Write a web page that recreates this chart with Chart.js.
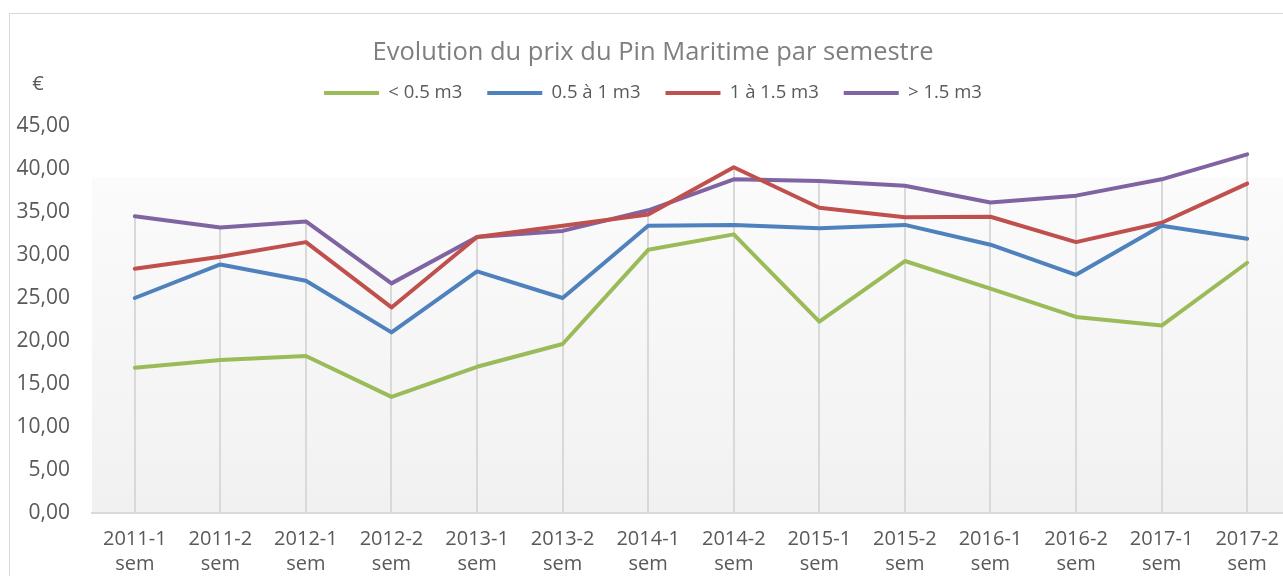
<!DOCTYPE html>
<html>
<head>
<meta charset="utf-8">
<script src="https://cdn.jsdelivr.net/npm/chart.js@4"></script>
<style>
  body { margin: 0; background: #fff; overflow: hidden; }
  #frame { position: absolute; left: 9px; top: 13px; width: 1400px; height: 700px; border: 1px solid #d9d9d9; overflow: hidden; }
</style>
</head>
<body>
<div id="frame"><canvas id="chartCanvas" width="1283" height="600"></canvas></div>
<script>
"use strict";

const periods = [
    ['2011-1', 'sem'], ['2011-2', 'sem'], ['2012-1', 'sem'], ['2012-2', 'sem'],
    ['2013-1', 'sem'], ['2013-2', 'sem'], ['2014-1', 'sem'], ['2014-2', 'sem'],
    ['2015-1', 'sem'], ['2015-2', 'sem'], ['2016-1', 'sem'], ['2016-2', 'sem'],
    ['2017-1', 'sem'], ['2017-2', 'sem']
];

const under05 = [16.9, 17.8, 18.25, 13.5, 17.0, 19.65, 30.6, 32.4, 22.25, 29.3, 26.1, 22.8, 21.8, 29.1];
const from05to1 = [25.0, 28.9, 27.0, 21.0, 28.1, 25.0, 33.4, 33.5, 33.1, 33.5, 31.2, 27.7, 33.4, 31.9];
const from1to15 = [28.4, 29.8, 31.5, 23.9, 32.1, 33.4, 34.7, 40.2, 35.5, 34.4, 34.45, 31.5, 33.75, 38.3];
const over15 = [34.5, 33.2, 33.9, 26.7, 32.1, 32.8, 35.2, 38.8, 38.6, 38.05, 36.1, 36.9, 38.8, 41.7];

const seriesNames = ['< 0.5 m3', '0.5 à 1 m3', '1 à 1.5 m3', '> 1.5 m3'];
const seriesColors = ['#9bbb59', '#4f81bd', '#c0504d', '#8064a2'];

const yTicks = [0, 5, 10, 15, 20, 25, 30, 35, 40, 45];

const FONT = '"Open Sans", "Noto Sans", sans-serif';
const TEXT = '#595959';
const LINE = '#d9d9d9';

// gradient plot area + excel style drop lines from the highest point of each period
const plotDecor = {
    id: 'plotDecor',
    beforeDraw(chart) {
        const {ctx, chartArea: a} = chart;
        const g = ctx.createLinearGradient(0, a.top, 0, a.bottom);
        g.addColorStop(0, '#ffffff');
        g.addColorStop(0.13, '#ffffff');
        g.addColorStop(0.135, '#fbfbfb');
        g.addColorStop(1, '#f1f1f1');
        ctx.save();
        ctx.fillStyle = g;
        ctx.fillRect(a.left, a.top, a.right - a.left, a.bottom - a.top);
        ctx.restore();
    },
    beforeDatasetsDraw(chart) {
        const {ctx, chartArea: a, scales: {x, y}} = chart;
        ctx.save();
        ctx.strokeStyle = LINE;
        ctx.lineWidth = 2;
        periods.forEach((p, i) => {
            const top = Math.max(...chart.data.datasets.map(d => d.data[i]));
            const px = Math.round(x.getPixelForValue(i));
            ctx.beginPath();
            ctx.moveTo(px, y.getPixelForValue(top));
            ctx.lineTo(px, a.bottom);
            ctx.stroke();
        });
        ctx.restore();
    },
    afterDraw(chart) {
        const {ctx} = chart;
        ctx.save();
        ctx.fillStyle = TEXT;
        ctx.font = '20px ' + FONT;
        ctx.textAlign = 'center';
        ctx.textBaseline = 'middle';
        ctx.fillText('€', 28, 70);
        ctx.restore();
    }
};

const ctx = document.getElementById('chartCanvas').getContext('2d');
const chart = new Chart(ctx, {
    type: 'line',
    data: {
        labels: periods,
        datasets: [under05, from05to1, from1to15, over15].map((values, i) => ({
            label: seriesNames[i],
            data: values,
            borderColor: seriesColors[i],
            backgroundColor: seriesColors[i],
            borderWidth: 4,
            borderCapStyle: 'round',
            borderJoinStyle: 'round',
            pointRadius: 0,
            pointStyle: 'line',
            tension: 0
        }))
    },
    plugins: [plotDecor],
    options: {
        responsive: false,
        animation: false,
        events: [],
        layout: { padding: { left: 0, top: 0, bottom: 0, right: -3 } },
        plugins: {
            title: {
                display: true,
                text: 'Evolution du prix du Pin Maritime par semestre',
                color: '#7f7f7f',
                font: { family: FONT, size: 25.5, weight: 'normal', lineHeight: 1.2 },
                padding: { top: 23.7, bottom: -9.55 }
            },
            legend: {
                display: true,
                position: 'top',
                labels: {
                    color: TEXT,
                    font: { family: FONT, size: 18.5 },
                    usePointStyle: true,
                    pointStyle: 'line',
                    pointStyleWidth: 55,
                    padding: 25
                }
            },
            // empty spacer between legend and plot
            subtitle: {
                display: true,
                text: '',
                weight: 500,
                padding: 0,
                font: { size: 13.75, lineHeight: 1 }
            },
            tooltip: { enabled: false }
        },
        scales: {
            x: {
                offset: true,
                grid: { display: false, drawTicks: false },
                border: { display: true, color: LINE, width: 2 },
                ticks: {
                    color: TEXT,
                    font: { family: FONT, size: 20, lineHeight: 1.25 },
                    padding: 14,
                    maxRotation: 0,
                    autoSkip: false
                },
                afterFit: s => { s.height = 101; }
            },
            y: {
                min: 0,
                max: 45,
                grid: { display: false, drawTicks: false },
                border: { display: false },
                afterBuildTicks: s => { s.ticks = yTicks.map(v => ({ value: v })); },
                ticks: {
                    color: TEXT,
                    font: { family: FONT, size: 21 },
                    padding: 22,
                    callback: v => v.toFixed(2).replace('.', ',')
                },
                afterFit: s => { s.width = 82; }
            }
        }
    }
});
</script>
</body>
</html>
